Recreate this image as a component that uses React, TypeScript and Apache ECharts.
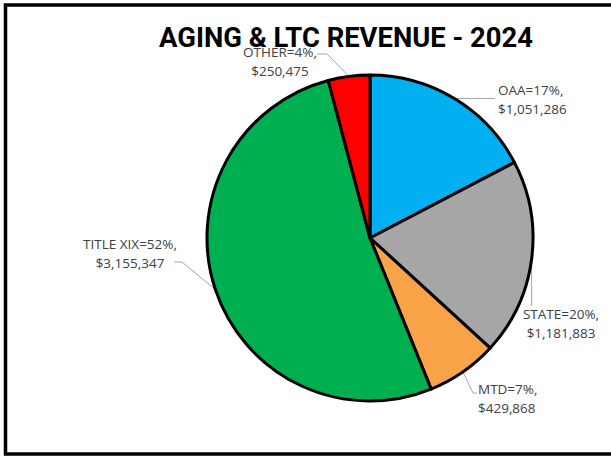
import React, { useEffect, useRef } from "react";
import * as echarts from "echarts";

const categories = ["OAA", "STATE", "MTD", "TITLE XIX", "OTHER"];
const values = [1051286, 1181883, 429868, 3155347, 250475];
const percents = [17, 20, 7, 52, 4];
const colors = ["#00B0F0", "#A6A6A6", "#F9A348", "#00B050", "#FF0000"];
const titleText = "AGING & LTC REVENUE - 2024";

const CX = 370;
const CY = 238;
const R = 163;

// label anchor positions and leader-line elbow/end points
const labelPos: { x: number; y: number; align: string; elbow: number[] | null; end: number[] | null }[] = [
  { x: 498, y: 99, align: "left", elbow: null, end: [495, NaN] },
  { x: 561, y: 323, align: "center", elbow: null, end: [NaN, 306] },
  { x: 478, y: 398, align: "left", elbow: [473, 393], end: [477, 393] },
  { x: 130, y: 253, align: "center", elbow: [182, 262], end: [174, 262] },
  { x: 280, y: 61, align: "center", elbow: [327, 54], end: [317, 54] },
];

const fmt = (v: number) => "$" + v.toLocaleString("en-US");

function edgePoint(i: number): number[] {
  const total = values.reduce((a, b) => a + b, 0);
  let before = 0;
  for (let k = 0; k < i; k++) before += values[k];
  const midFrac = (before + values[i] / 2) / total;
  const ang = ((90 - midFrac * 360) * Math.PI) / 180;
  return [CX + R * Math.cos(ang), CY - R * Math.sin(ang)];
}

export default function App() {
  const ref = useRef<HTMLDivElement>(null);
  useEffect(() => {
    document.body.style.margin = "0";
    const chart = echarts.init(ref.current!, undefined, { renderer: "svg" });
    chart.setOption({
      animation: false,
      title: {
        text: titleText,
        left: 341,
        top: 19,
        textAlign: "center",
        textStyle: {
          fontFamily: "Roboto",
          fontWeight: "bold",
          fontSize: 27.4,
          color: "#000",
        },
      },
      graphic: [
        {
          type: "rect",
          shape: { x: 5.5, y: 5, width: 640, height: 449 },
          style: { fill: "none", stroke: "#000", lineWidth: 3.5 },
          silent: true,
          z: 100,
        },
      ],
      series: [
        {
          type: "pie",
          center: [CX, CY],
          radius: R,
          startAngle: 90,
          clockwise: true,
          data: categories.map((c, i) => ({
            name: c,
            value: values[i],
            itemStyle: { color: colors[i] },
          })),
          itemStyle: { borderColor: "#000", borderWidth: 3 },
          label: {
            show: true,
            overflow: "none",
            formatter: (p: any) =>
              `${p.name}=${percents[p.dataIndex]}%,\n${fmt(p.value)}`,
            fontFamily: "Open Sans",
            fontSize: 13.5,
            lineHeight: 19,
            color: "#404040",
          },
          labelLine: {
            show: true,
            lineStyle: { color: "#A6A6A6", width: 1 },
          },
          labelLayout: (params: any) => {
            const i = params.dataIndex;
            const p = labelPos[i];
            const s = edgePoint(i);
            const endRaw = p.end as number[];
            const end = [
              isNaN(endRaw[0]) ? s[0] : endRaw[0],
              isNaN(endRaw[1]) ? s[1] : endRaw[1],
            ];
            const elbow = p.elbow ? p.elbow : end;
            return {
              x: p.x,
              y: p.y,
              align: p.align,
              verticalAlign: "middle",
              labelLinePoints: [s, elbow, end],
            };
          },
          emphasis: { disabled: true },
        },
      ],
    });
    return () => chart.dispose();
  }, []);
  return <div ref={ref} style={{ width: 611, height: 458 }} />;
}
